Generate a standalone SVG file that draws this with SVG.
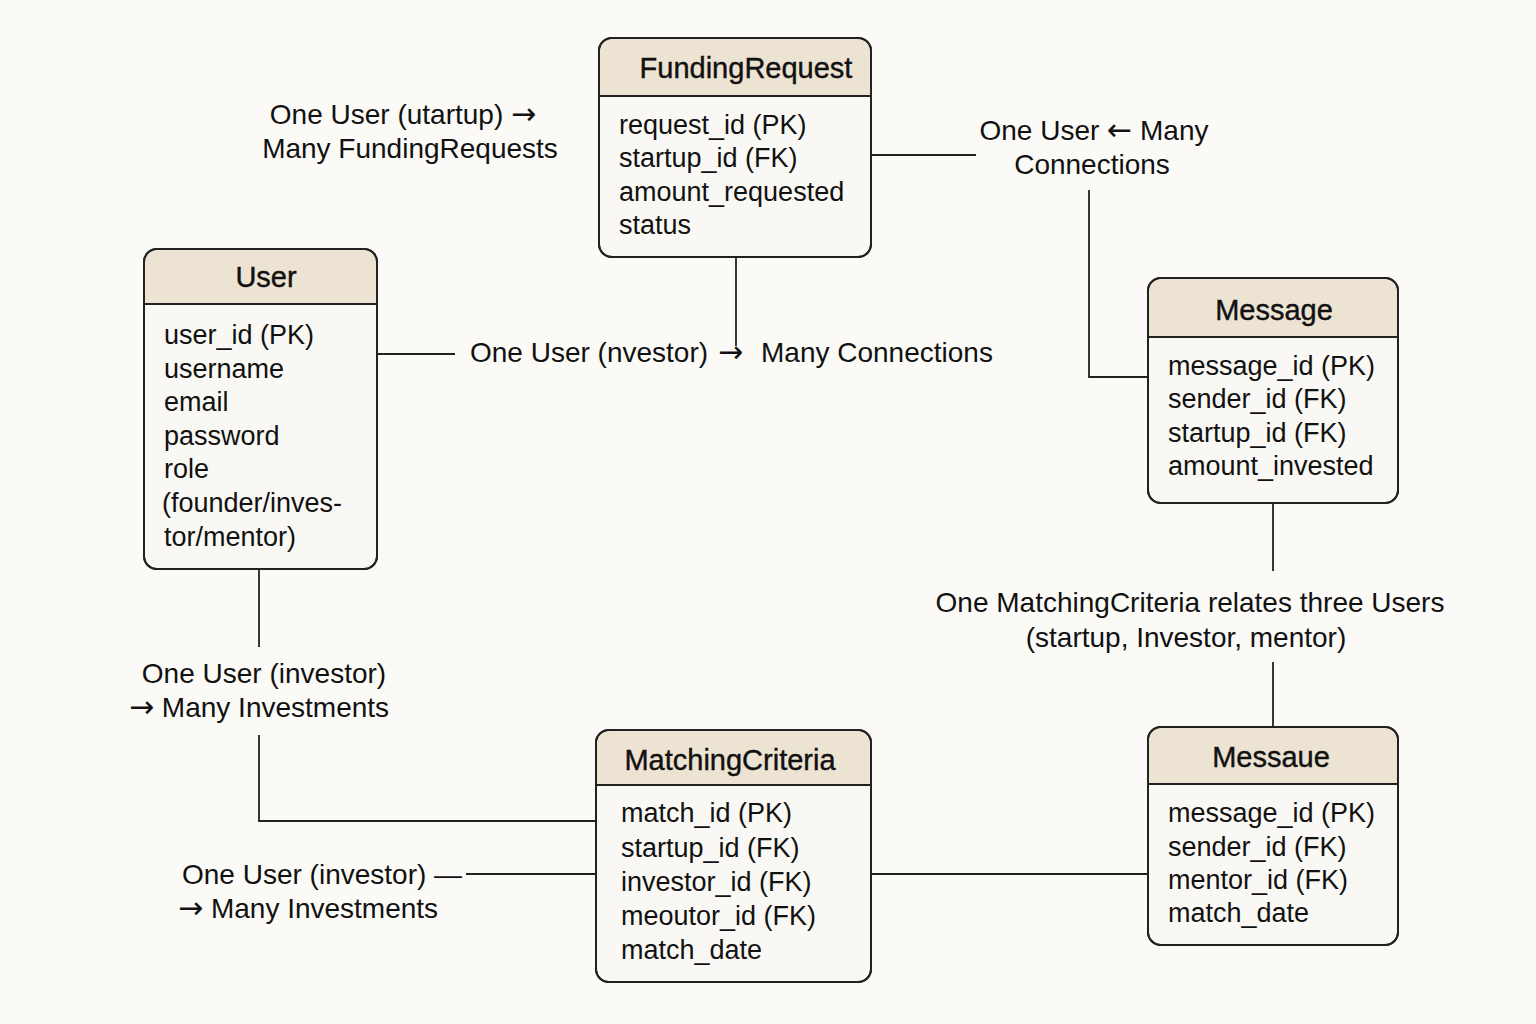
<svg xmlns="http://www.w3.org/2000/svg" width="1536" height="1024" viewBox="0 0 1536 1024">
  <style>
    text { font-family: "Liberation Sans", Arial, sans-serif; fill: #111; }
    .box { fill: #faf8f4; stroke: #222; stroke-width: 2; }
    .hdr { fill: #ede3d2; stroke: none; }
    .sep { stroke: #222; stroke-width: 2; }
    .title { font-size: 29px; text-anchor: middle; stroke: #111; stroke-width: 0.4; }
    .field { font-size: 27px; }
    .lbl { font-size: 28px; }
    .mid { text-anchor: middle; }
    .arr { font-family: "DejaVu Sans", sans-serif; font-size: 30px; }
    .conn line, .conn polyline { stroke: #222; stroke-width: 1.8; fill: none; }
  </style>
  <rect width="1536" height="1024" fill="#fbfaf7"/>

  <g id="connectors" class="conn">
    <line x1="871" y1="155" x2="976" y2="155"/>
    <polyline points="1089,190 1089,377 1148,377"/>
    <line x1="736" y1="257" x2="736" y2="346"/>
    <line x1="377" y1="354" x2="455" y2="354"/>
    <line x1="259" y1="569" x2="259" y2="647"/>
    <polyline points="259,735 259,821 596,821"/>
    <line x1="466" y1="874" x2="596" y2="874"/>
    <line x1="871" y1="874" x2="1148" y2="874"/>
    <line x1="1273" y1="503" x2="1273" y2="571"/>
    <line x1="1273" y1="662" x2="1273" y2="727"/>
  </g>

  <g id="node-fundingrequest">
    <rect class="box" x="599" y="38" width="272" height="219" rx="13"/>
    <path class="hdr" d="M600,96 V51 A12,12 0 0 1 612,39 H858 A12,12 0 0 1 870,51 V96 Z"/>
    <rect x="599" y="38" width="272" height="219" rx="13" fill="none" stroke="#222" stroke-width="2"/>
    <line class="sep" x1="599" y1="96" x2="871" y2="96"/>
    <text class="title" x="746" y="78">FundingRequest</text>
    <text class="field" x="619" y="134">request_id (PK)</text>
    <text class="field" x="619" y="167">startup_id (FK)</text>
    <text class="field" x="619" y="201">amount_requested</text>
    <text class="field" x="619" y="234">status</text>
  </g>

  <g id="node-user">
    <rect class="box" x="144" y="249" width="233" height="320" rx="13"/>
    <path class="hdr" d="M145,304 V262 A12,12 0 0 1 157,250 H364 A12,12 0 0 1 376,262 V304 Z"/>
    <rect x="144" y="249" width="233" height="320" rx="13" fill="none" stroke="#222" stroke-width="2"/>
    <line class="sep" x1="144" y1="304" x2="377" y2="304"/>
    <text class="title" x="266" y="287">User</text>
    <text class="field" x="164" y="344">user_id (PK)</text>
    <text class="field" x="164" y="378">username</text>
    <text class="field" x="164" y="411">email</text>
    <text class="field" x="164" y="445">password</text>
    <text class="field" x="164" y="478">role</text>
    <text class="field" x="162" y="512">(founder/inves-</text>
    <text class="field" x="164" y="546">tor/mentor)</text>
  </g>

  <g id="node-message">
    <rect class="box" x="1148" y="278" width="250" height="225" rx="13"/>
    <path class="hdr" d="M1149,337 V291 A12,12 0 0 1 1161,279 H1385 A12,12 0 0 1 1397,291 V337 Z"/>
    <rect x="1148" y="278" width="250" height="225" rx="13" fill="none" stroke="#222" stroke-width="2"/>
    <line class="sep" x1="1148" y1="337" x2="1398" y2="337"/>
    <text class="title" x="1274" y="320">Message</text>
    <text class="field" x="1168" y="375">message_id (PK)</text>
    <text class="field" x="1168" y="408">sender_id (FK)</text>
    <text class="field" x="1168" y="442">startup_id (FK)</text>
    <text class="field" x="1168" y="475">amount_invested</text>
  </g>

  <g id="node-matchingcriteria">
    <rect class="box" x="596" y="730" width="275" height="252" rx="13"/>
    <path class="hdr" d="M597,785 V743 A12,12 0 0 1 609,731 H858 A12,12 0 0 1 870,743 V785 Z"/>
    <rect x="596" y="730" width="275" height="252" rx="13" fill="none" stroke="#222" stroke-width="2"/>
    <line class="sep" x1="596" y1="785" x2="871" y2="785"/>
    <text class="title" x="730" y="770">MatchingCriteria</text>
    <text class="field" x="621" y="822">match_id (PK)</text>
    <text class="field" x="621" y="857">startup_id (FK)</text>
    <text class="field" x="621" y="891">investor_id (FK)</text>
    <text class="field" x="621" y="925">meoutor_id (FK)</text>
    <text class="field" x="621" y="959">match_date</text>
  </g>

  <g id="node-messaue">
    <rect class="box" x="1148" y="727" width="250" height="218" rx="13"/>
    <path class="hdr" d="M1149,784 V740 A12,12 0 0 1 1161,728 H1385 A12,12 0 0 1 1397,740 V784 Z"/>
    <rect x="1148" y="727" width="250" height="218" rx="13" fill="none" stroke="#222" stroke-width="2"/>
    <line class="sep" x1="1148" y1="784" x2="1398" y2="784"/>
    <text class="title" x="1271" y="767">Messaue</text>
    <text class="field" x="1168" y="822">message_id (PK)</text>
    <text class="field" x="1168" y="856">sender_id (FK)</text>
    <text class="field" x="1168" y="889">mentor_id (FK)</text>
    <text class="field" x="1168" y="922">match_date</text>
  </g>

  <g id="labels">
    <text class="lbl mid" x="403" y="124">One User (utartup) <tspan class="arr">→</tspan></text>
    <text class="lbl mid" x="410" y="158">Many FundingRequests</text>
    <text class="lbl" x="470" y="362">One User (nvestor)</text>
    <text class="lbl arr" x="718" y="362">→</text>
    <text class="lbl" x="761" y="362">Many Connections</text>
    <text class="lbl mid" x="1094" y="140">One User <tspan class="arr">←</tspan> Many</text>
    <text class="lbl mid" x="1092" y="174">Connections</text>
    <text class="lbl mid" x="264" y="683">One User (investor)</text>
    <text class="lbl mid" x="259" y="717"><tspan class="arr">→</tspan> Many Investments</text>
    <text class="lbl" x="182" y="884">One User (investor) —</text>
    <text class="lbl" x="178" y="918"><tspan class="arr">→</tspan> Many Investments</text>
    <text class="lbl mid" x="1190" y="612">One MatchingCriteria relates three Users</text>
    <text class="lbl mid" x="1186" y="647">(startup, Investor, mentor)</text>
  </g>
</svg>
